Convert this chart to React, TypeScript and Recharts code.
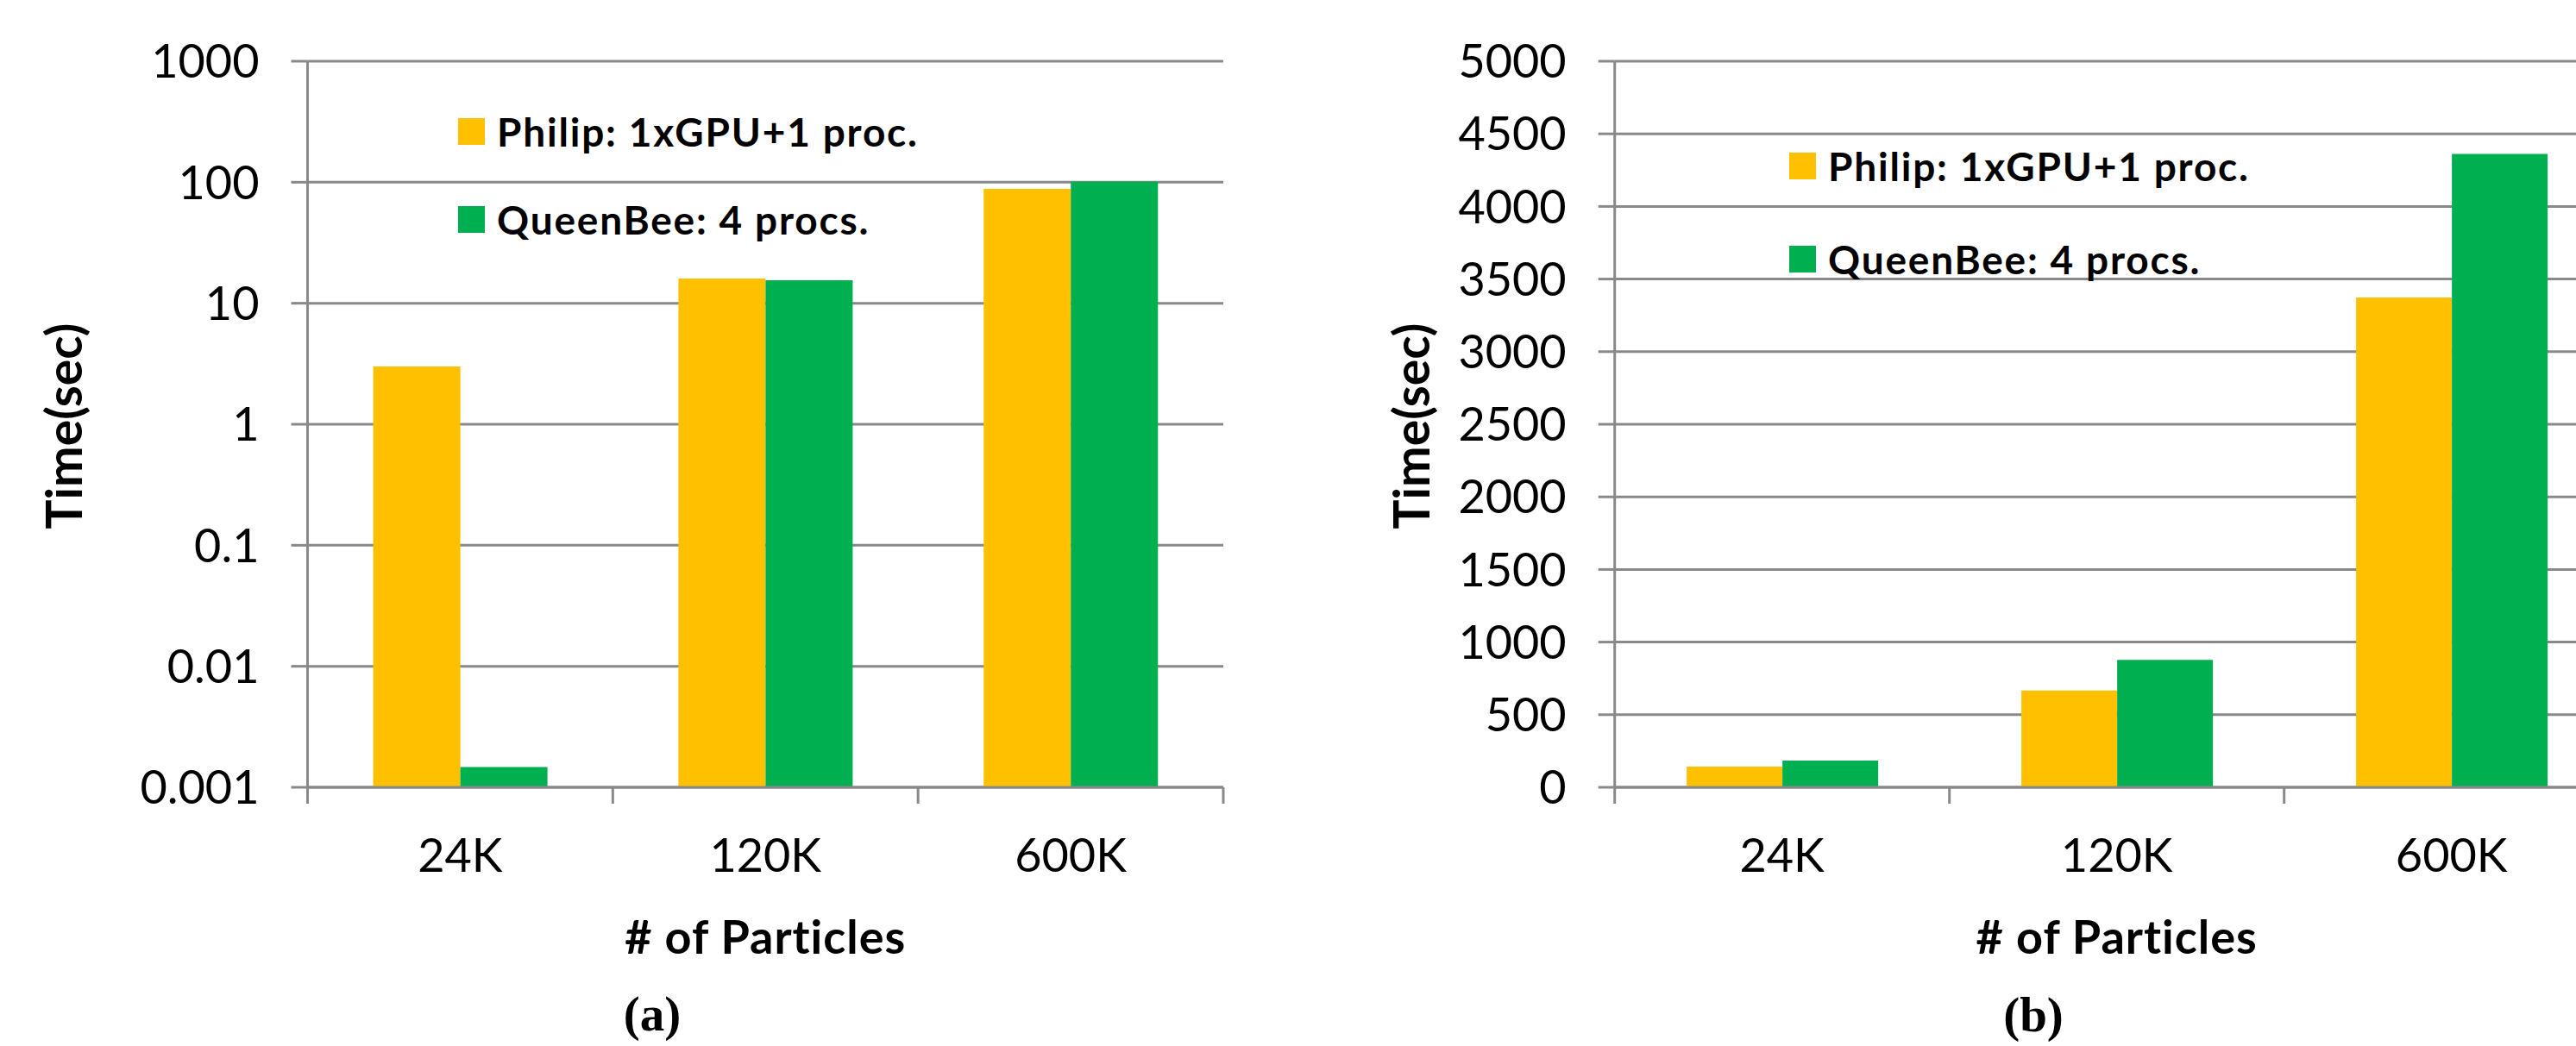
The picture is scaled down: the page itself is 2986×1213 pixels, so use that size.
import React from "react";
import { BarChart, Bar, XAxis, YAxis, CartesianGrid, Legend } from "recharts";

// ─── Data ───────────────────────────────────────────────────

const CATEGORIES = ["24K", "120K", "600K"];
const SERIES_NAMES = ["Philip: 1xGPU+1 proc.", "QueenBee: 4 procs."];

// (a) log scale, seconds
const PHILIP_LOG = [3.0, 16, 88];
const QUEENBEE_LOG = [0.00147, 15.5, 101];
const LOG_TICKS = [0.001, 0.01, 0.1, 1, 10, 100, 1000];

// (b) linear scale, seconds
const PHILIP_SEC = [142, 666, 3373];
const QUEENBEE_SEC = [184, 878, 4361];
const LIN_TICKS = [0, 500, 1000, 1500, 2000, 2500, 3000, 3500, 4000, 4500, 5000];

// ─── Style ──────────────────────────────────────────────────

const ORANGE = "#FFC000";
const GREEN = "#00B050";
const GRID = "#898989";
const FONT = "Lato, 'Open Sans', sans-serif";
const SERIF = "'Liberation Serif', 'DejaVu Serif', serif";
const TICK_LEN = 19;

const TICK_STYLE = { fill: "#000", fontSize: 54, fontFamily: FONT } as const;

function buildRows(a: number[], b: number[]) {
  return CATEGORIES.map((name, i) => ({ name, philip: a[i], queenbee: b[i] }));
}

const LOG_ROWS = buildRows(PHILIP_LOG, QUEENBEE_LOG);
const SEC_ROWS = buildRows(PHILIP_SEC, QUEENBEE_SEC);

// Excel-style x axis: tick marks on category boundaries, labels in the middle
function makeCategoryTick(bottom: number, halfBand: number) {
  return function CategoryTick(props: any) {
    const { x, payload } = props;
    const half = payload?.offset || halfBand;
    const isLast = payload?.value === CATEGORIES[CATEGORIES.length - 1];
    return (
      <g>
        <line x1={x - half} x2={x - half} y1={bottom} y2={bottom + TICK_LEN} stroke={GRID} strokeWidth={3} />
        {isLast && (
          <line x1={x + half} x2={x + half} y1={bottom} y2={bottom + TICK_LEN} stroke={GRID} strokeWidth={3} />
        )}
        <text x={x} y={bottom + 98} textAnchor="middle" {...TICK_STYLE}>
          {payload?.value}
        </text>
      </g>
    );
  };
}

// label props use their own names so Recharts' injected x / y don't override them
function YTitle({ px, py }: { px: number; py: number }) {
  return (
    <text
      x={px}
      y={py}
      transform={`rotate(-90 ${px} ${py})`}
      textAnchor="middle"
      fontFamily={FONT}
      fontWeight={700}
      fontSize={57}
      fill="#000"
    >
      Time(sec)
    </text>
  );
}

function XTitle({ px, py }: { px: number; py: number }) {
  return (
    <text x={px} y={py} textAnchor="middle" fontFamily={FONT} fontWeight={700} fontSize={54} letterSpacing={1} fill="#000">
      # of Particles
    </text>
  );
}

function makeLegend(rowGap: number) {
  return function LegendContent(props: any) {
    const items = props.payload || [];
    return (
      <div style={{ display: "flex", flexDirection: "column", gap: rowGap }}>
        {items.map((entry: any) => (
          <div key={entry.value} style={{ display: "flex", alignItems: "flex-start", height: 31 }}>
            <span style={{ width: 31, height: 31, background: entry.color, marginRight: 14, flexShrink: 0 }} />
            <span
              style={{
                fontFamily: FONT,
                fontWeight: 700,
                fontSize: 46,
                lineHeight: "31px",
                letterSpacing: 1.8,
                color: "#000",
                whiteSpace: "nowrap",
              }}
            >
              {entry.value}
            </span>
          </div>
        ))}
      </div>
    );
  };
}

// ─── One panel ──────────────────────────────────────────────

interface PanelProps {
  rows: { name: string; philip: number; queenbee: number }[];
  log: boolean;
  ticks: number[];
  width: number;
  plotLeft: number;
  plotRight: number;
  yTitleX: number;
  legendLeft: number;
  legendTop: number;
  legendGap: number;
}

const PLOT_TOP = 71;
const PLOT_BOTTOM = 913;
const CHART_H = 1213;
const XAXIS_H = 60;

function Panel({ rows, log, ticks, width, plotLeft, plotRight, yTitleX, legendLeft, legendTop, legendGap }: PanelProps) {
  const halfBand = (plotRight - plotLeft) / CATEGORIES.length / 2;
  return (
    <BarChart
      width={width}
      height={CHART_H}
      data={rows}
      margin={{ top: PLOT_TOP, right: width - plotRight, left: 0, bottom: CHART_H - PLOT_BOTTOM - XAXIS_H }}
      barCategoryGap="21.5%"
      barGap={0}
    >
      <CartesianGrid vertical={false} stroke={GRID} strokeWidth={3} />
      <XAxis
        dataKey="name"
        height={XAXIS_H}
        axisLine={{ stroke: GRID, strokeWidth: 3 }}
        tickLine={false}
        interval={0}
        tick={makeCategoryTick(PLOT_BOTTOM, halfBand)}
        label={<XTitle px={(plotLeft + plotRight) / 2} py={PLOT_BOTTOM + 193} />}
      />
      <YAxis
        width={plotLeft}
        scale={log ? "log" : "linear"}
        domain={[ticks[0], ticks[ticks.length - 1]]}
        ticks={ticks}
        interval={0}
        allowDataOverflow
        axisLine={{ stroke: GRID, strokeWidth: 3 }}
        tickLine={{ stroke: GRID, strokeWidth: 3 }}
        tickSize={TICK_LEN}
        tickMargin={37}
        tick={TICK_STYLE}
        label={<YTitle px={yTitleX} py={494} />}
      />
      <Legend
        layout="vertical"
        align="center"
        verticalAlign="middle"
        content={makeLegend(legendGap)}
        wrapperStyle={{ left: legendLeft, top: legendTop, width: "auto" }}
      />
      <Bar dataKey="philip" name={SERIES_NAMES[0]} fill={ORANGE} isAnimationActive={false} />
      <Bar dataKey="queenbee" name={SERIES_NAMES[1]} fill={GREEN} isAnimationActive={false} />
    </BarChart>
  );
}

export default function App() {
  return (
    <div
      style={{
        position: "fixed",
        left: 0,
        top: 0,
        width: 2986,
        height: 1213,
        overflow: "hidden",
        background: "#fff",
      }}
    >
      <div style={{ position: "absolute", left: 0, top: 0 }}>
        <Panel
          rows={LOG_ROWS}
          log
          ticks={LOG_TICKS}
          width={1500}
          plotLeft={356.5}
          plotRight={1418}
          yTitleX={95}
          legendLeft={531}
          legendTop={137}
          legendGap={71}
        />
      </div>
      <div style={{ position: "absolute", left: 1500, top: 0 }}>
        <Panel
          rows={SEC_ROWS}
          log={false}
          ticks={LIN_TICKS}
          width={1600}
          plotLeft={371.7}
          plotRight={1535.7}
          yTitleX={157}
          legendLeft={574}
          legendTop={177}
          legendGap={77}
        />
      </div>
      <svg width={2986} height={1213} style={{ position: "absolute", left: 0, top: 0, pointerEvents: "none" }}>
        <text x={756} y={1195} textAnchor="middle" fontFamily={SERIF} fontWeight={700} fontSize={57} fill="#000">
          (a)
        </text>
        <text x={2357} y={1196} textAnchor="middle" fontFamily={SERIF} fontWeight={700} fontSize={57} fill="#000">
          (b)
        </text>
      </svg>
    </div>
  );
}
